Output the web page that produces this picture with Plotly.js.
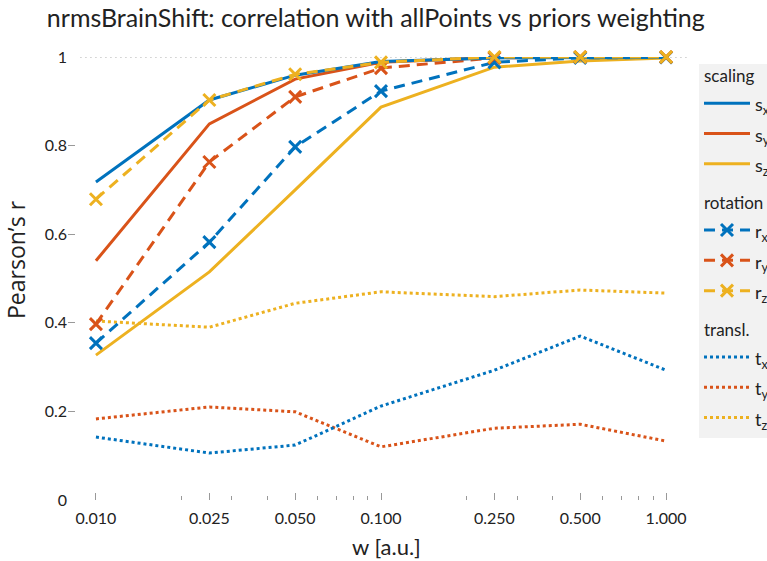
<!DOCTYPE html>
<html><head><meta charset="utf-8">
<script src="https://cdn.plot.ly/plotly-3.0.1.min.js"></script>
<style>html,body{margin:0;padding:0;background:#fff;}#chart{width:767px;height:561px;}</style>
</head><body><div id="chart"></div>
<script>
const w = [0.01, 0.025, 0.05, 0.1, 0.25, 0.5, 1.0];
const tickLabels = ['0.010', '0.025', '0.050', '0.100', '0.250', '0.500', '1.000'];
const minorTicks = [0.02, 0.03, 0.04, 0.06, 0.07, 0.08, 0.09, 0.2, 0.3, 0.4, 0.6, 0.7, 0.8, 0.9];
const yTicks = [0, 0.2, 0.4, 0.6, 0.8, 1];
const yTickLabels = ['0', '0.2', '0.4', '0.6', '0.8', '1'];

const sx = [0.718, 0.903, 0.959, 0.990, 0.998, 0.999, 0.999];
const sy = [0.540, 0.849, 0.950, 0.988, 0.999, 1.000, 1.000];
const sz = [0.327, 0.515, 0.700, 0.887, 0.977, 0.991, 0.998];
const rx = [0.354, 0.582, 0.797, 0.923, 0.988, 0.998, 0.999];
const ry = [0.397, 0.763, 0.910, 0.975, 0.998, 1.000, 1.000];
const rz = [0.679, 0.903, 0.961, 0.988, 1.000, 1.000, 1.000];
const tx = [0.142, 0.106, 0.124, 0.212, 0.293, 0.370, 0.293];
const ty = [0.183, 0.210, 0.199, 0.120, 0.162, 0.171, 0.133];
const tz = [0.404, 0.390, 0.444, 0.470, 0.459, 0.474, 0.467];

const C = ['#0072BD', '#D95319', '#EDB120'];
const FONT = 'Lato, "Open Sans", sans-serif';

function lbl(s) { return '<span style="font-size:18px">' + s + '</span>'; }
function glbl(s) { return '<span style="font-size:17px">' + s + '</span>'; }

function tr(y, name, color, kind, group, rank, gtitle) {
  const t = {x: w, y: y, name: lbl(name), type: 'scatter', legendgroup: group, cliponaxis: false,
    legendrank: rank, line: {color: color, width: 3}};
  if (gtitle) t.legendgrouptitle = {text: glbl(gtitle), font: {size: 10, color: '#222'}};
  if (kind === 'solid') { t.mode = 'lines'; }
  if (kind === 'dash') { t.mode = 'lines+markers'; t.line.dash = '11px,7px';
    t.marker = {symbol: 'x-thin', size: 12, line: {color: color, width: 3}}; }
  if (kind === 'dot') { t.mode = 'lines'; t.line.dash = '3px,3px'; }
  return t;
}

const data = [
  tr(tz, 't<sub>z</sub>', C[2], 'dot', 'c', 9),
  tr(ty, 't<sub>y</sub>', C[1], 'dot', 'c', 8),
  tr(tx, 't<sub>x</sub>', C[0], 'dot', 'c', 7, 'transl.'),
  tr(sz, 's<sub>z</sub>', C[2], 'solid', 'a', 3),
  tr(rx, 'r<sub>x</sub>', C[0], 'dash', 'b', 4, 'rotation'),
  tr(ry, 'r<sub>y</sub>', C[1], 'dash', 'b', 5),
  tr(sy, 's<sub>y</sub>', C[1], 'solid', 'a', 2),
  tr(sx, 's<sub>x</sub>', C[0], 'solid', 'a', 1, 'scaling'),
  tr(rz, 'r<sub>z</sub>', C[2], 'dash', 'b', 6),
];

const layout = {
  width: 767, height: 561,
  margin: {l: 68, r: 77, t: 57, b: 61},
  paper_bgcolor: '#fff', plot_bgcolor: '#fff',
  font: {family: FONT, size: 16, color: '#222'},
  title: {text: 'nrmsBrainShift: correlation with allPoints vs priors weighting',
    font: {size: 25, color: '#222'}, x: 0.49, xanchor: 'center', xref: 'container',
    y: 1 - 18 / 561, yanchor: 'middle', yref: 'container'},
  xaxis: {type: 'log', range: [Math.log10(0.01) - 0.098, Math.log10(1.0) + 0.084],
    tickmode: 'array', tickvals: w, ticktext: tickLabels, ticks: 'inside', ticklen: 7,
    tickcolor: '#999', tickwidth: 1, showgrid: false, zeroline: false, showline: false,
    tickfont: {size: 16, color: '#222'}, ticklabelstandoff: 7,
    minor: {tickmode: 'array', tickvals: minorTicks, ticks: 'inside', ticklen: 4, tickcolor: '#999', tickwidth: 1, showgrid: false}},
  yaxis: {range: [0, 1], tickmode: 'array', tickvals: yTicks, ticktext: yTickLabels,
    ticks: 'inside', ticklen: 7, tickcolor: '#999', tickwidth: 1,
    showgrid: false, zeroline: false, showline: false,
    tickfont: {size: 16, color: '#222'}},
  annotations: [
    {text: 'w [a.u.]', xref: 'paper', yref: 'paper', x: (386 - 68) / 622, y: -(546 - 500) / 443,
     xanchor: 'center', yanchor: 'middle', showarrow: false, font: {size: 22, color: '#222'}},
    {text: 'Pearson’s r', xref: 'paper', yref: 'paper', x: -(68 - 16) / 622, y: (500 - 260) / 443,
     xanchor: 'center', yanchor: 'middle', showarrow: false, textangle: -90,
     font: {family: '"Open Sans", sans-serif', size: 23, color: '#222'}}
  ],
  shapes: [{type: 'line', xref: 'paper', yref: 'y', x0: 0.02, x1: 1, y0: 1, y1: 1,
    line: {color: '#666', width: 1.2, dash: '1px,4px'}, layer: 'below'}],
  legend: {x: 699 / 767, xref: 'container', xanchor: 'left', y: 1 - 64 / 561, yref: 'container', yanchor: 'top',
    bgcolor: '#f2f2f2', font: {size: 21, color: '#222'}, tracegroupgap: 17, traceorder: 'grouped',
    itemwidth: 46, maxheight: 520},
  showlegend: true
};
Plotly.newPlot('chart', data, layout, {displayModeBar: false, staticPlot: true});
</script></body></html>
